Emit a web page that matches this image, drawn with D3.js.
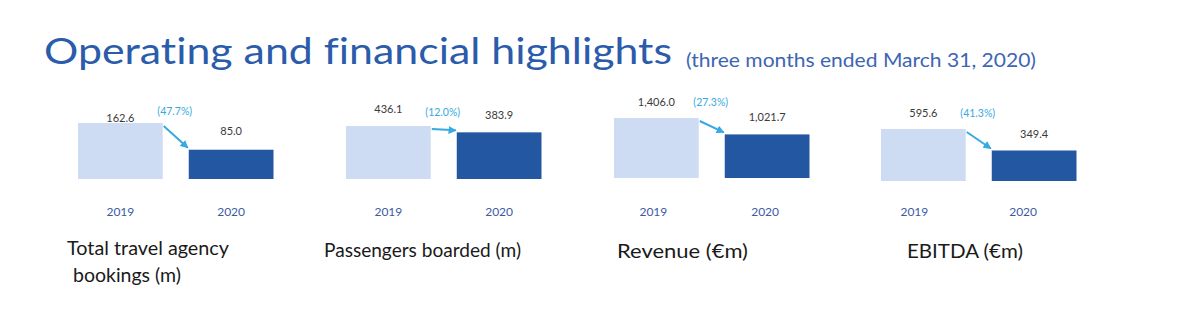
<!DOCTYPE html>
<html><head><meta charset="utf-8">
<script src="https://cdn.jsdelivr.net/npm/d3@7"></script>
<style>
html,body{margin:0;padding:0;background:#fff;}
svg{display:block;font-family:Lato,"Open Sans",sans-serif;font-variant-ligatures:none;font-feature-settings:"liga" 0,"clig" 0;}
</style></head>
<body>
<script>
// ---- data ----
const years = ["2019", "2020"];
const metricTitles = [["Total travel agency", "bookings (m)"], ["Passengers boarded (m)"], ["Revenue (€m)"], ["EBITDA (€m)"]];
const values2019 = [162.6, 436.1, 1406.0, 595.6];
const values2020 = [85.0, 383.9, 1021.7, 349.4];
const changeLabels = ["(47.7%)", "(12.0%)", "(27.3%)", "(41.3%)"];
const titleText = "Operating and financial highlights";
const subtitleText = "(three months ended March 31, 2020)";

// ---- layout (positions/styles only) ----
const W = 1185, H = 326;
const panelLeft = [78, 346, 614, 881];
const baseY = [179, 179, 178, 181];
const maxBarH = [56, 53, 60, 52];
const valueGap = [[1, 15], [13, 13], [12, 13], [12, 12]];
const pctGap = [8, 10, 12, 12];
const yearDx = [[0, 0], [0, 0], [-3, -2], [-9, -11]];
const titlePos = [[67, 255], [324, 257], [617, 258], [907, 258]];
const lineDx = [[0, 6], [0], [0], [0]];
const titleW = [[162, 108], [197], [131], [116]];

const cLight = "#cddcf3", cDark = "#2457a1", cPct = "#36a9e1", cYear = "#3b5aa5", cVal = "#3a3a3a";

const svg = d3.select("body").append("svg").attr("width", W).attr("height", H);

svg.append("defs").append("marker")
  .attr("id", "ah").attr("viewBox", "0 0 10 10").attr("refX", 9).attr("refY", 5)
  .attr("markerWidth", 4).attr("markerHeight", 4).attr("orient", "auto")
  .append("path").attr("d", "M0,0L10,5L0,10z").attr("fill", cPct);

svg.append("text").attr("x", 44).attr("y", 64)
  .attr("fill", "#2b5cab").style("font-size", "36px")
  .attr("textLength", 628).attr("lengthAdjust", "spacingAndGlyphs").text(titleText);
svg.append("text").attr("x", 686).attr("y", 67)
  .attr("fill", "#3d65b3").style("font-size", "18.5px")
  .attr("textLength", 350).attr("lengthAdjust", "spacingAndGlyphs").text(subtitleText);

const fmt = d3.format(",.1f");

metricTitles.forEach((mt, i) => {
  const g = svg.append("g");
  const x = d3.scaleBand().domain(years).range([panelLeft[i], panelLeft[i] + 195.5]).paddingInner(0.235).paddingOuter(0);
  const y = d3.scaleLinear().domain([0, values2019[i]]).range([baseY[i], baseY[i] - maxBarH[i]]);
  const vals = [values2019[i], values2020[i]];
  const data = years.map((yr, k) => ({ yr, v: vals[k], k }));

  g.selectAll("rect").data(data).join("rect")
    .attr("x", d => x(d.yr)).attr("width", x.bandwidth())
    .attr("y", d => y(d.v)).attr("height", d => y(0) - y(d.v))
    .attr("fill", d => d.k === 0 ? cLight : cDark);

  g.selectAll("text.val").data(data).join("text").attr("class", "val")
    .attr("x", d => x(d.yr) + x.bandwidth() / 2)
    .attr("y", d => y(d.v) - valueGap[i][d.k])
    .attr("text-anchor", "middle").attr("fill", cVal).style("font-size", "11px")
    .text(d => fmt(d.v));

  g.selectAll("text.yr").data(data).join("text").attr("class", "yr")
    .attr("x", d => x(d.yr) + x.bandwidth() / 2 + yearDx[i][d.k])
    .attr("y", 216)
    .attr("text-anchor", "middle").attr("fill", cYear).style("font-size", "12px")
    .text(d => d.yr);

  const x1 = x(years[0]) + x.bandwidth(), x2 = x(years[1]);
  g.append("text").attr("x", x1 + 12).attr("y", y(values2019[i]) - pctGap[i])
    .attr("text-anchor", "middle").attr("fill", cPct).style("font-size", "10.5px")
    .text(changeLabels[i]);

  g.append("line")
    .attr("x1", x1 + 1).attr("y1", y(values2019[i]) + 3)
    .attr("x2", x2 - 1).attr("y2", y(values2020[i]) - 2)
    .attr("stroke", cPct).attr("stroke-width", 2).attr("marker-end", "url(#ah)");

  const t = g.append("text").attr("fill", "#1a1a1a").style("font-size", "19.5px");
  mt.forEach((line, j) => {
    t.append("tspan").attr("x", titlePos[i][0] + lineDx[i][j]).attr("y", titlePos[i][1] + j * 27)
      .attr("textLength", titleW[i][j]).attr("lengthAdjust", "spacingAndGlyphs")
      .text(line);
  });
});
</script>
</body></html>
